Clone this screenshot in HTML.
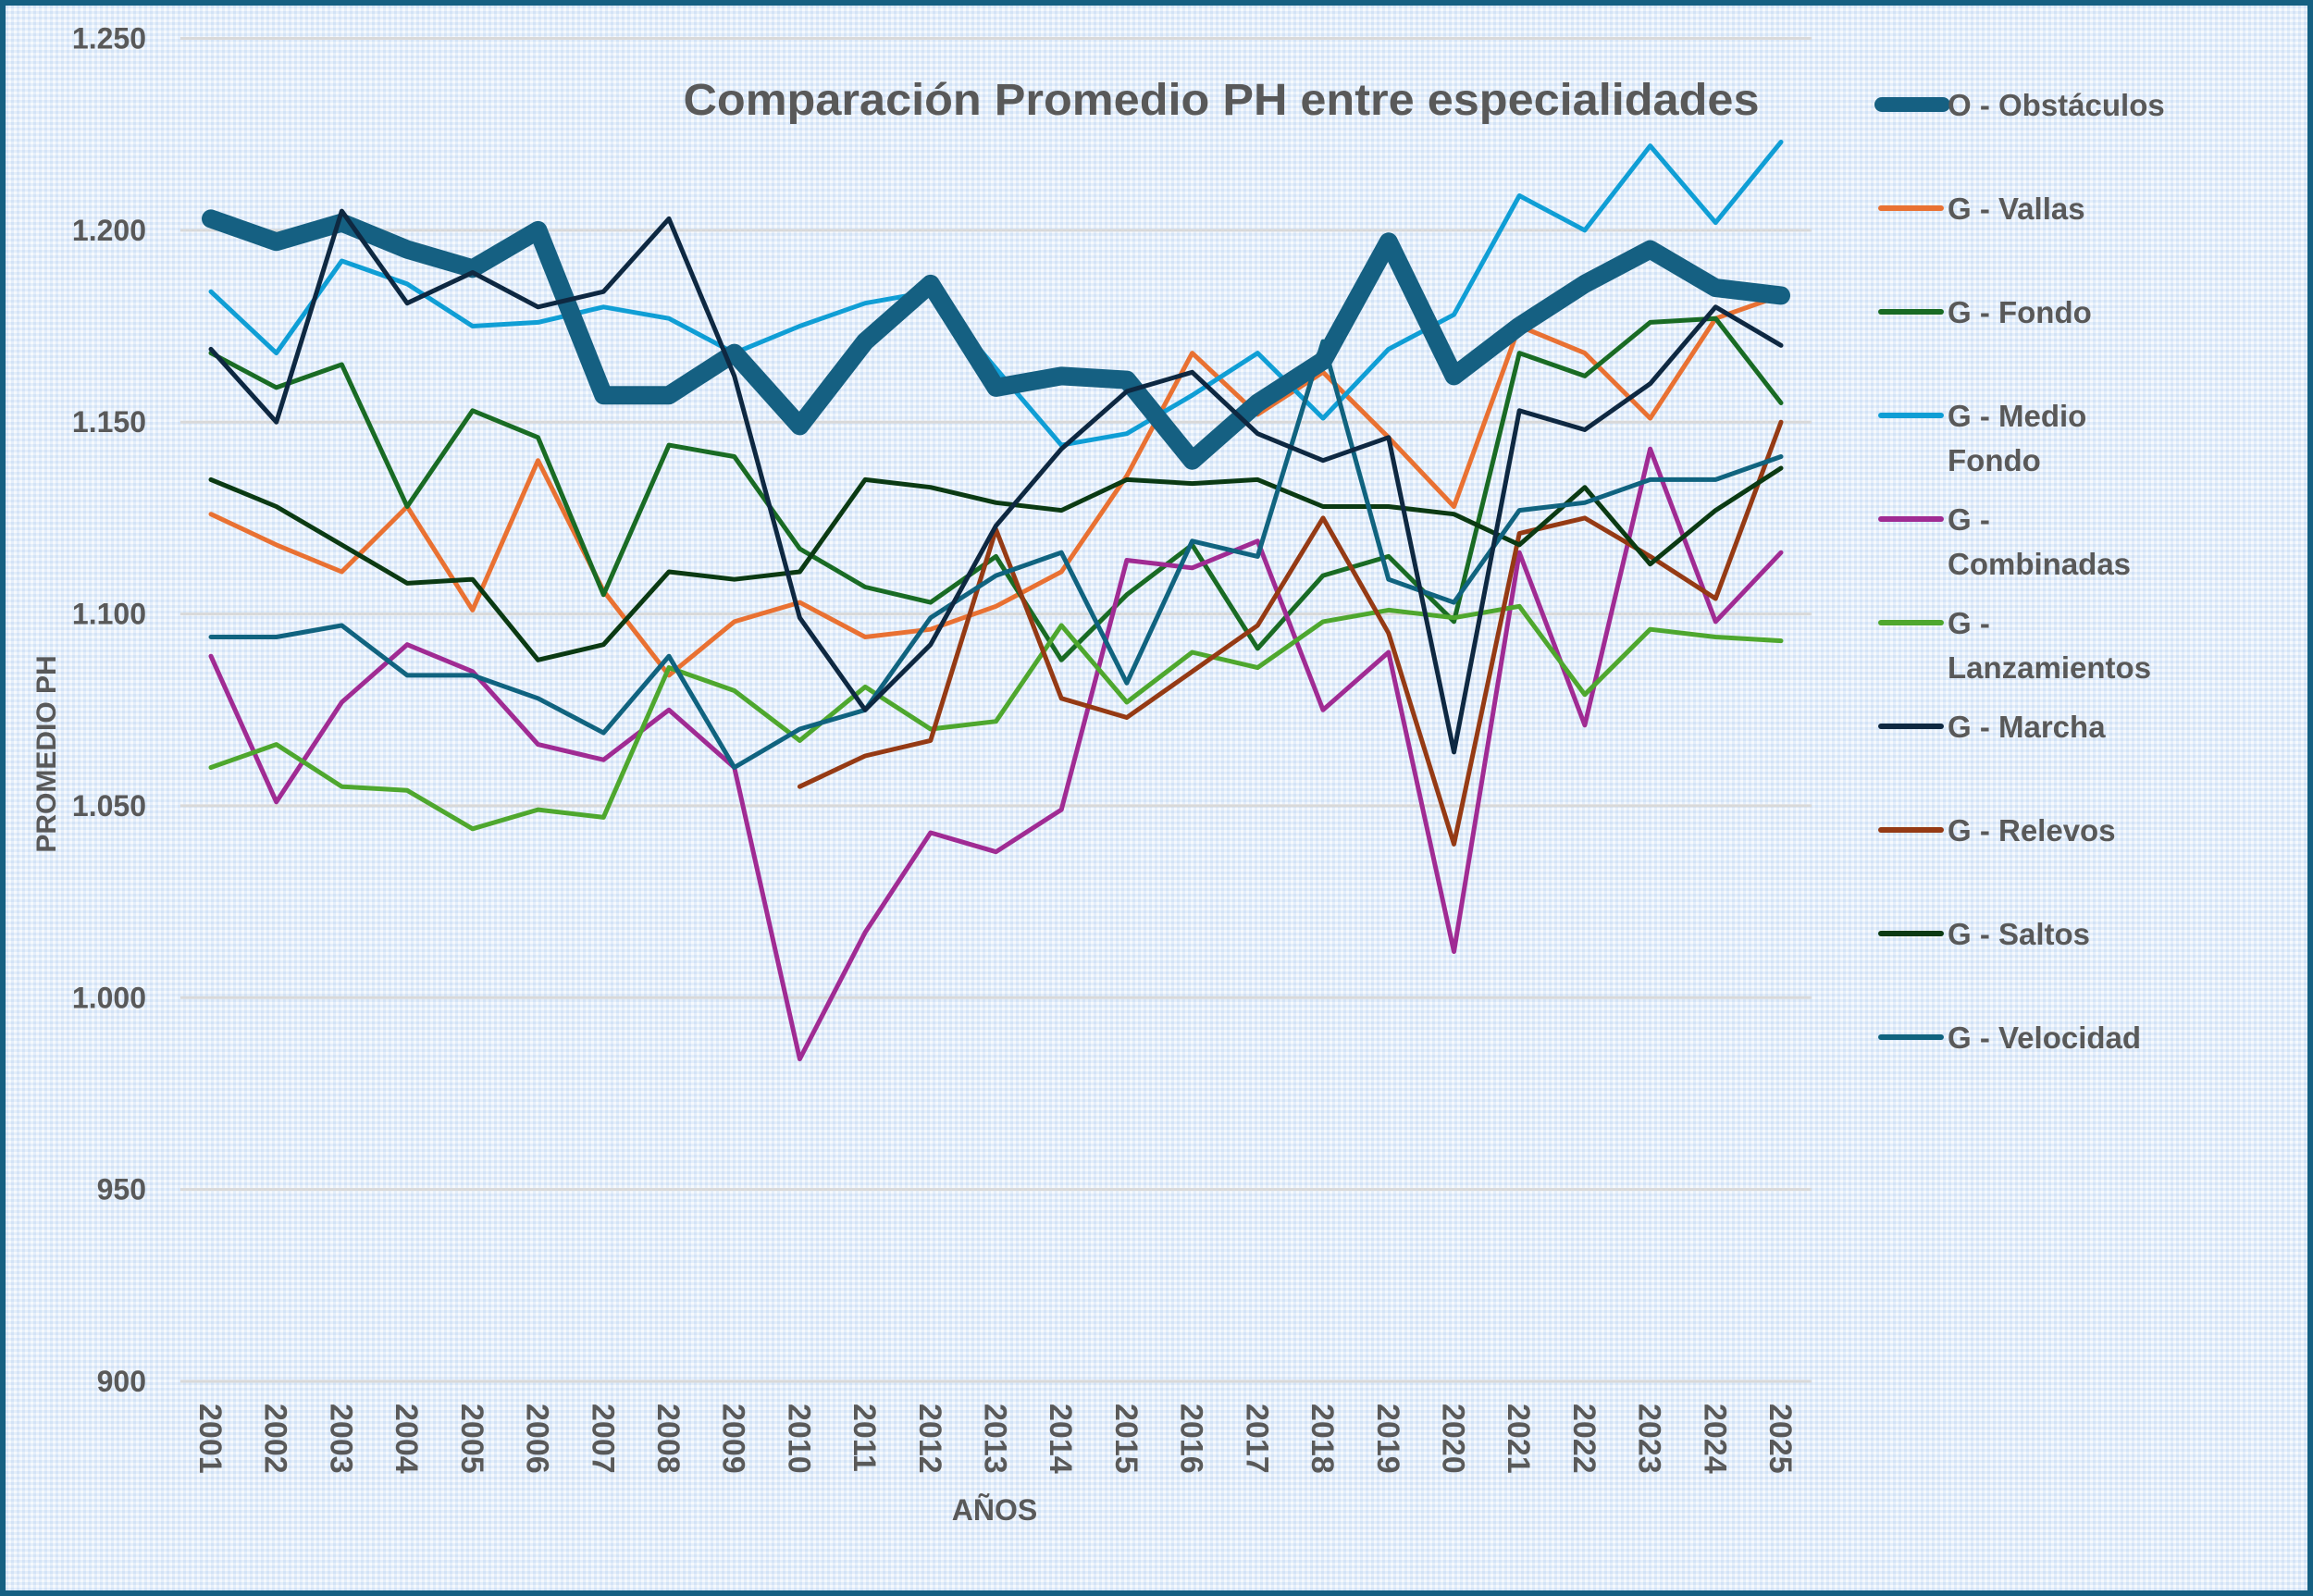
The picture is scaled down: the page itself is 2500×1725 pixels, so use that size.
<!DOCTYPE html>
<html><head><meta charset="utf-8"><style>
html,body{margin:0;padding:0;background:#fff}
svg{display:block}
text{font-family:"Liberation Sans",sans-serif;font-weight:bold;fill:#595959}
</style></head><body>
<svg id="chart" width="2500" height="1725" xmlns="http://www.w3.org/2000/svg">
<defs>
<pattern id="dots" width="6" height="6" patternUnits="userSpaceOnUse">
<rect width="6" height="6" fill="#e4eefa"/>
<rect x="0" y="0" width="3" height="3" fill="#d3e3f6"/>
<rect x="3" y="3" width="3" height="3" fill="#f6f9fd"/>
</pattern>
</defs>
<rect x="3" y="3" width="2494" height="1719" fill="url(#dots)" stroke="#156082" stroke-width="6"/>
<text x="1320" y="124" font-size="48" text-anchor="middle" textLength="1163" lengthAdjust="spacingAndGlyphs">Comparación Promedio PH entre especialidades</text>
<g id="grid"></g>
<g id="yticks"></g>
<g id="xticks"></g>
<g id="series"></g>
<g id="legend"></g>
<text x="1075" y="1643" font-size="32" text-anchor="middle">AÑOS</text>
<text transform="translate(60,815) rotate(-90)" font-size="30" text-anchor="middle">PROMEDIO PH</text>
</svg>
<script>
const years = ['2001','2002','2003','2004','2005','2006','2007','2008','2009','2010','2011','2012','2013','2014','2015','2016','2017','2018','2019','2020','2021','2022','2023','2024','2025'];
const yTicks = [900,950,1000,1050,1100,1150,1200,1250];
const yTickLabels = ['900','950','1.000','1.050','1.100','1.150','1.200','1.250'];
const seriesNames = ['O - Obstáculos','G - Vallas','G - Fondo','G - Medio Fondo','G - Combinadas','G - Lanzamientos','G - Marcha','G - Relevos','G - Saltos','G - Velocidad'];
const obstaculos = [1203,1197,1202,1195,1190,1200,1157,1157,1168,1149,1171,1186,1159,1162,1161,1140,1155,1166,1197,1162,1175,1186,1195,1185,1183];
const vallas = [1126,1118,1111,1128,1101,1140,1106,1084,1098,1103,1094,1096,1102,1111,1136,1168,1152,1163,1146,1128,1175,1168,1151,1177,1183];
const fondo = [1168,1159,1165,1128,1153,1146,1105,1144,1141,1117,1107,1103,1115,1088,1105,1118,1091,1110,1115,1098,1168,1162,1176,1177,1155];
const medioFondo = [1184,1168,1192,1186,1175,1176,1180,1177,1168,1175,1181,1184,1164,1144,1147,1157,1168,1151,1169,1178,1209,1200,1222,1202,1223];
const combinadas = [1089,1051,1077,1092,1085,1066,1062,1075,1060,984,1017,1043,1038,1049,1114,1112,1119,1075,1090,1012,1116,1071,1143,1098,1116];
const lanzamientos = [1060,1066,1055,1054,1044,1049,1047,1086,1080,1067,1081,1070,1072,1097,1077,1090,1086,1098,1101,1099,1102,1079,1096,1094,1093];
const marcha = [1169,1150,1205,1181,1189,1180,1184,1203,1162,1099,1075,1092,1123,1143,1158,1163,1147,1140,1146,1064,1153,1148,1160,1180,1170];
const relevos = [null,null,null,null,null,null,null,null,null,1055,1063,1067,1122,1078,1073,1085,1097,1125,1095,1040,1121,1125,1115,1104,1150];
const saltos = [1135,1128,1118,1108,1109,1088,1092,1111,1109,1111,1135,1133,1129,1127,1135,1134,1135,1128,1128,1126,1118,1133,1113,1127,1138];
const velocidad = [1094,1094,1097,1084,1084,1078,1069,1089,1060,1070,1075,1099,1110,1116,1082,1119,1115,1171,1109,1103,1127,1129,1135,1135,1141];

const NS='http://www.w3.org/2000/svg';
const X0=228, X1=1925, YTOP=41.5, YBOT=1493, VMIN=900, VMAX=1250;
function xPos(i){return X0+(X1-X0)*i/(years.length-1);}
function yPos(v){return YBOT-(v-VMIN)/(VMAX-VMIN)*(YBOT-YTOP);}
function mk(tag,attrs,parent){const e=document.createElementNS(NS,tag);for(const k in attrs)e.setAttribute(k,attrs[k]);parent.appendChild(e);return e;}

const grid=document.getElementById('grid'), yt=document.getElementById('yticks'), xt=document.getElementById('xticks');
yTicks.forEach((v,i)=>{
  const l=mk('line',{x1:195,x2:1958,y1:yPos(v),y2:yPos(v),stroke:'#d9d9d9','stroke-width':3},grid);
  
  
  const t=mk('text',{x:158,y:yPos(v)+11,'font-size':32,'text-anchor':'end'},yt);
  t.textContent=yTickLabels[i];
  
  
});
years.forEach((y,i)=>{
  const t=mk('text',{transform:`translate(${xPos(i)-12},1517) rotate(90)`,'font-size':34},xt);
  t.textContent=y;
  
  
});

const datasets=[obstaculos,vallas,fondo,medioFondo,combinadas,lanzamientos,marcha,relevos,saltos,velocidad];
const colors=['#156082','#e97132','#196b24','#0f9ed5','#a02b93','#4ea72e','#0e2841','#953a14','#0b3a13','#10637f'];
const widths=[20,5,5,5,5,5,5,5,5,5];
const keys=['obstaculos','vallas','fondo','medio-fondo','combinadas','lanzamientos','marcha','relevos','saltos','velocidad'];
const sg=document.getElementById('series');
const order=[1,2,3,4,5,7,8,9,0,6];
order.forEach(s=>{
  const d=datasets[s]; let path='';let pen=false;
  d.forEach((v,i)=>{if(v==null){pen=false;return;}path+=(pen?'L':'M')+xPos(i).toFixed(1)+','+yPos(v).toFixed(1);pen=true;});
  const p=mk('path',{d:path,fill:'none',stroke:colors[s],'stroke-width':widths[s],'stroke-linejoin':'round','stroke-linecap':'round'},sg);
  
  
});

const lg=document.getElementById('legend');
const legendLines=[['O - Obstáculos'],['G - Vallas'],['G - Fondo'],['G - Medio','Fondo'],['G -','Combinadas'],['G -','Lanzamientos'],['G - Marcha'],['G - Relevos'],['G - Saltos'],['G - Velocidad']];
seriesNames.forEach((n,i)=>{
  const y=113+i*112;
  const g=mk('g',{},lg);
  
  
  mk('line',{x1:i==0?2034:2033,x2:i==0?2100:2098,y1:y,y2:y,stroke:colors[i],'stroke-width':i==0?16:6,'stroke-linecap':'round'},g);
  legendLines[i].forEach((txt,j)=>{
    const t=mk('text',{x:2105,y:y+12+j*48,'font-size':33},g);
    t.textContent=txt;
  });
});
</script>
</body></html>
